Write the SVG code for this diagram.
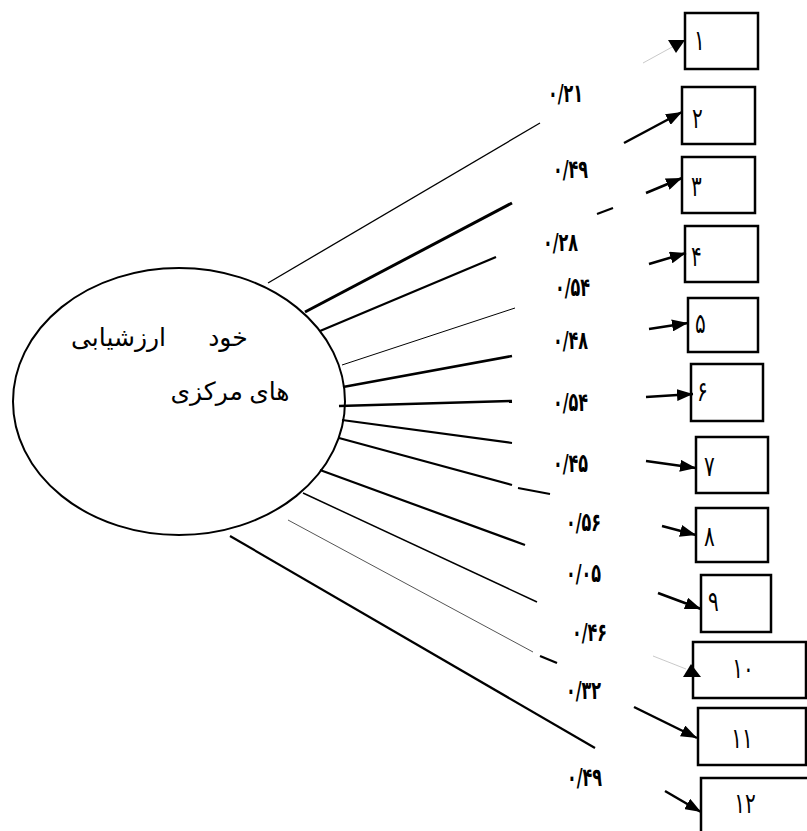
<svg xmlns="http://www.w3.org/2000/svg" width="807" height="831" viewBox="0 0 807 831">
<style>
.box{fill:#fff;stroke:#000;stroke-width:2.5}
.ln{stroke:#000;fill:none;stroke-width:2.2}
.ar{stroke:#000;fill:none;stroke-width:2.5;marker-end:url(#ah)}
.lbl{font-family:"DejaVu Sans",sans-serif;font-weight:bold;font-size:16px;fill:#000}
.dig{font-family:"DejaVu Sans",sans-serif;font-size:20px;fill:#000}
.ctr{font-family:"Liberation Serif","DejaVu Sans",serif;font-size:25px;fill:#000}
</style>
<defs>
<marker id="ah" markerWidth="16" markerHeight="12" refX="16" refY="6" orient="auto" markerUnits="userSpaceOnUse">
<path d="M0,0 L16,6 L0,12 z" fill="#000"/>
</marker>
</defs>
<rect width="807" height="831" fill="#fff"/>
<g id="latent">
<ellipse cx="179" cy="401.5" rx="166" ry="133.5" fill="#fff" stroke="#000" stroke-width="2"/>
<text class="ctr" x="228" y="346" text-anchor="middle">خود</text>
<text class="ctr" x="166" y="346" direction="rtl" text-anchor="start">ارزشیابی</text>
<text class="ctr" x="230" y="400" text-anchor="middle">های مرکزی</text>
</g>
<g id="item1"><rect class="box" x="685" y="13" width="73" height="56"/><text class="dig" transform="translate(694,50) scale(1,1.4)">۱</text></g>
<g id="item2"><rect class="box" x="682" y="87" width="73" height="57"/><text class="dig" transform="translate(692,128) scale(1,1.4)">۲</text></g>
<g id="item3"><rect class="box" x="682" y="157" width="73" height="56"/><text class="dig" transform="translate(691,196) scale(1,1.4)">۳</text></g>
<g id="item4"><rect class="box" x="685" y="226" width="73" height="56"/><text class="dig" transform="translate(691,266) scale(1,1.4)">۴</text></g>
<g id="item5"><rect class="box" x="688" y="298" width="70" height="54"/><text class="dig" transform="translate(695,333) scale(1,1.4)">۵</text></g>
<g id="item6"><rect class="box" x="691" y="364" width="72" height="57"/><text class="dig" transform="translate(697,401) scale(1,1.4)">۶</text></g>
<g id="item7"><rect class="box" x="696" y="437" width="72" height="56"/><text class="dig" transform="translate(704,476) scale(1,1.4)">۷</text></g>
<g id="item8"><rect class="box" x="696" y="508" width="72" height="54"/><text class="dig" transform="translate(704,546) scale(1,1.4)">۸</text></g>
<g id="item9"><rect class="box" x="701" y="575" width="70" height="57"/><text class="dig" transform="translate(708,611) scale(1,1.4)">۹</text></g>
<g id="item10"><rect class="box" x="693" y="642" width="113" height="56"/><text class="dig" text-anchor="middle" transform="translate(743,678) scale(1,1.4)">۱۰</text></g>
<g id="item11"><rect class="box" x="698" y="708" width="108" height="57"/><text class="dig" text-anchor="middle" transform="translate(742,748) scale(1,1.4)">۱۱</text></g>
<g id="item12"><rect class="box" x="701" y="778" width="110" height="60"/><text class="dig" text-anchor="middle" transform="translate(745,813) scale(1,1.4)">۱۲</text></g>
<g id="connectors">
<line class="ln" x1="268" y1="283" x2="540" y2="123" style="stroke-width:1.3"/>
<line x1="643" y1="63" x2="674" y2="46" stroke="#bbb" stroke-width="0.8"/>
<polygon points="668,40 685,40 676,53" fill="#000"/>
<line class="ln" x1="305" y1="312" x2="512" y2="203" style="stroke-width:3"/>
<line class="ar" x1="624" y1="143" x2="682" y2="112"/>
<line class="ln" x1="320" y1="331" x2="496" y2="257"/>
<line class="ln" x1="597" y1="214" x2="613" y2="208"/>
<line class="ar" x1="646" y1="193" x2="682" y2="178"/>
<line class="ln" x1="342" y1="365" x2="515" y2="308" style="stroke-width:1"/>
<line class="ar" x1="649" y1="264" x2="686" y2="253"/>
<line class="ln" x1="343" y1="387" x2="512" y2="356" style="stroke-width:2.5"/>
<line class="ar" x1="649" y1="329" x2="688" y2="323"/>
<line class="ln" x1="339" y1="406" x2="512" y2="401" style="stroke-width:2.5"/>
<line class="ar" x1="646" y1="397" x2="693" y2="394"/>
<line class="ln" x1="342" y1="420" x2="512" y2="443"/>
<line class="ar" x1="646" y1="461" x2="696" y2="468"/>
<line class="ln" x1="339" y1="438" x2="512" y2="485"/>
<line class="ln" x1="518" y1="488" x2="550" y2="494"/>
<line class="ar" x1="662" y1="526" x2="696" y2="535"/>
<line class="ln" x1="320" y1="470" x2="525" y2="545"/>
<line class="ar" x1="658" y1="593" x2="701" y2="609"/>
<line class="ln" x1="303" y1="493" x2="537" y2="602" style="stroke-width:1.5"/>
<line x1="653" y1="656" x2="686" y2="669" stroke="#bbb" stroke-width="0.8"/>
<polygon points="691,664 683,677 701,677" fill="#000"/>
<line class="ln" x1="288" y1="520" x2="533" y2="652" style="stroke-width:1;stroke:#555"/>
<line class="ln" x1="540" y1="656" x2="557" y2="663"/>
<line class="ar" x1="634" y1="707" x2="697" y2="738"/>
<line class="ln" x1="230" y1="536" x2="595" y2="748"/>
<line class="ar" x1="665" y1="791" x2="701" y2="812"/>
</g>
<g id="labels">
<text class="lbl" transform="translate(548,102) scale(1,1.6)">۰/۲۱</text>
<text class="lbl" transform="translate(553,178) scale(1,1.6)">۰/۴۹</text>
<text class="lbl" transform="translate(543,251) scale(1,1.6)">۰/۲۸</text>
<text class="lbl" transform="translate(555,296) scale(1,1.6)">۰/۵۴</text>
<text class="lbl" transform="translate(553,349) scale(1,1.6)">۰/۴۸</text>
<text class="lbl" transform="translate(553,411) scale(1,1.6)">۰/۵۴</text>
<text class="lbl" transform="translate(553,472) scale(1,1.6)">۰/۴۵</text>
<text class="lbl" transform="translate(566,531) scale(1,1.6)">۰/۵۶</text>
<text class="lbl" transform="translate(566,582) scale(1,1.6)">۰/۰۵</text>
<text class="lbl" transform="translate(572,641) scale(1,1.6)">۰/۴۶</text>
<text class="lbl" transform="translate(566,699) scale(1,1.6)">۰/۳۲</text>
<text class="lbl" transform="translate(567,786) scale(1,1.6)">۰/۴۹</text>
</g>
</svg>
